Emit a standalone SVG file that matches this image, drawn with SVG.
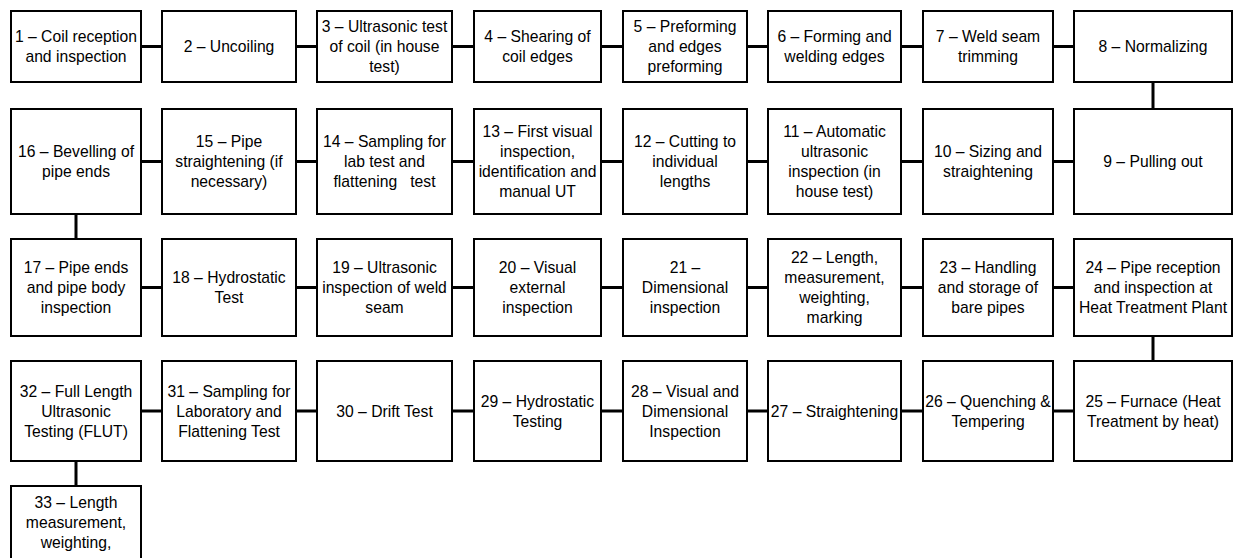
<svg xmlns="http://www.w3.org/2000/svg" width="1236" height="558" viewBox="0 0 1236 558">
<style>
.b{fill:#fff;stroke:#000;stroke-width:2}
.t{font-family:"Liberation Sans",Arial,sans-serif;font-size:15.7px;fill:#000;text-anchor:middle;white-space:pre}
.c{stroke:#000;stroke-width:3;fill:none}
</style>
<rect x="0" y="0" width="1236" height="558" fill="#fff"/>
<g id="connectors">
<path class="c" d="M142 46.5H161M297 46.5H316M453 46.5H473M602 46.5H622M748 46.5H767M902 46.5H922M1054 46.5H1073"/>
<path class="c" d="M142 161.5H161M297 161.5H316M453 161.5H473M602 161.5H622M748 161.5H767M902 161.5H922M1054 161.5H1073"/>
<path class="c" d="M142 287.5H161M297 287.5H316M453 287.5H473M602 287.5H622M748 287.5H767M902 287.5H922M1054 287.5H1073"/>
<path class="c" d="M142 411H161M297 411H316M453 411H473M602 411H622M748 411H767M902 411H922M1054 411H1073"/>
<path class="c" d="M1153 83V108M76 215V238M1153 337V360M76 462V485"/>
</g>
<g id="n1"><rect class="b" x="11" y="11" width="130" height="71"/><text class="t"><tspan x="76" y="42.1">1 – Coil reception</tspan><tspan x="76" y="62.1">and inspection</tspan></text></g>
<g id="n2"><rect class="b" x="162" y="11" width="134" height="71"/><text class="t"><tspan x="229" y="52.1">2 – Uncoiling</tspan></text></g>
<g id="n3"><rect class="b" x="317" y="11" width="135" height="71"/><text class="t"><tspan x="384.5" y="32.1">3 – Ultrasonic test</tspan><tspan x="384.5" y="52.1">of coil (in house</tspan><tspan x="384.5" y="72.1">test)</tspan></text></g>
<g id="n4"><rect class="b" x="474" y="11" width="127" height="71"/><text class="t"><tspan x="537.5" y="42.1">4 – Shearing of</tspan><tspan x="537.5" y="62.1">coil edges</tspan></text></g>
<g id="n5"><rect class="b" x="623" y="11" width="124" height="71"/><text class="t"><tspan x="685" y="32.1">5 – Preforming</tspan><tspan x="685" y="52.1">and edges</tspan><tspan x="685" y="72.1">preforming</tspan></text></g>
<g id="n6"><rect class="b" x="768" y="11" width="133" height="71"/><text class="t"><tspan x="834.5" y="42.1">6 – Forming and</tspan><tspan x="834.5" y="62.1">welding edges</tspan></text></g>
<g id="n7"><rect class="b" x="923" y="11" width="130" height="71"/><text class="t"><tspan x="988" y="42.1">7 – Weld seam</tspan><tspan x="988" y="62.1">trimming</tspan></text></g>
<g id="n8"><rect class="b" x="1074" y="11" width="158" height="71"/><text class="t"><tspan x="1153" y="52.1">8 – Normalizing</tspan></text></g>

<g id="n9"><rect class="b" x="1074" y="109" width="158" height="105"/><text class="t"><tspan x="1153" y="167.1">9 – Pulling out</tspan></text></g>
<g id="n10"><rect class="b" x="923" y="109" width="130" height="105"/><text class="t"><tspan x="988" y="157.1">10 – Sizing and</tspan><tspan x="988" y="177.1">straightening</tspan></text></g>
<g id="n11"><rect class="b" x="768" y="109" width="133" height="105"/><text class="t"><tspan x="834.5" y="137.1">11 – Automatic</tspan><tspan x="834.5" y="157.1">ultrasonic</tspan><tspan x="834.5" y="177.1">inspection (in</tspan><tspan x="834.5" y="197.1">house test)</tspan></text></g>
<g id="n12"><rect class="b" x="623" y="109" width="124" height="105"/><text class="t"><tspan x="685" y="147.1">12 – Cutting to</tspan><tspan x="685" y="167.1">individual</tspan><tspan x="685" y="187.1">lengths</tspan></text></g>
<g id="n13"><rect class="b" x="474" y="109" width="127" height="105"/><text class="t"><tspan x="537.5" y="137.1">13 – First visual</tspan><tspan x="537.5" y="157.1">inspection,</tspan><tspan x="537.5" y="177.1">identification and</tspan><tspan x="537.5" y="197.1">manual UT</tspan></text></g>
<g id="n14"><rect class="b" x="317" y="109" width="135" height="105"/><text class="t"><tspan x="384.5" y="147.1">14 – Sampling for</tspan><tspan x="384.5" y="167.1">lab test and</tspan><tspan x="384.5" y="187.1">flattening   test</tspan></text></g>
<g id="n15"><rect class="b" x="162" y="109" width="134" height="105"/><text class="t"><tspan x="229" y="147.1">15 – Pipe</tspan><tspan x="229" y="167.1">straightening (if</tspan><tspan x="229" y="187.1">necessary)</tspan></text></g>
<g id="n16"><rect class="b" x="11" y="109" width="130" height="105"/><text class="t"><tspan x="76" y="157.1">16 – Bevelling of</tspan><tspan x="76" y="177.1">pipe ends</tspan></text></g>

<g id="n17"><rect class="b" x="11" y="239" width="130" height="97"/><text class="t"><tspan x="76" y="273.1">17 – Pipe ends</tspan><tspan x="76" y="293.1">and pipe body</tspan><tspan x="76" y="313.1">inspection</tspan></text></g>
<g id="n18"><rect class="b" x="162" y="239" width="134" height="97"/><text class="t"><tspan x="229" y="283.1">18 – Hydrostatic</tspan><tspan x="229" y="303.1">Test</tspan></text></g>
<g id="n19"><rect class="b" x="317" y="239" width="135" height="97"/><text class="t"><tspan x="384.5" y="273.1">19 – Ultrasonic</tspan><tspan x="384.5" y="293.1">inspection of weld</tspan><tspan x="384.5" y="313.1">seam</tspan></text></g>
<g id="n20"><rect class="b" x="474" y="239" width="127" height="97"/><text class="t"><tspan x="537.5" y="273.1">20 – Visual</tspan><tspan x="537.5" y="293.1">external</tspan><tspan x="537.5" y="313.1">inspection</tspan></text></g>
<g id="n21"><rect class="b" x="623" y="239" width="124" height="97"/><text class="t"><tspan x="685" y="273.1">21 –</tspan><tspan x="685" y="293.1">Dimensional</tspan><tspan x="685" y="313.1">inspection</tspan></text></g>
<g id="n22"><rect class="b" x="768" y="239" width="133" height="97"/><text class="t"><tspan x="834.5" y="263.1">22 – Length,</tspan><tspan x="834.5" y="283.1">measurement,</tspan><tspan x="834.5" y="303.1">weighting,</tspan><tspan x="834.5" y="323.1">marking</tspan></text></g>
<g id="n23"><rect class="b" x="923" y="239" width="130" height="97"/><text class="t"><tspan x="988" y="273.1">23 – Handling</tspan><tspan x="988" y="293.1">and storage of</tspan><tspan x="988" y="313.1">bare pipes</tspan></text></g>
<g id="n24"><rect class="b" x="1074" y="239" width="158" height="97"/><text class="t"><tspan x="1153" y="273.1">24 – Pipe reception</tspan><tspan x="1153" y="293.1">and inspection at</tspan><tspan x="1153" y="313.1">Heat Treatment Plant</tspan></text></g>

<g id="n25"><rect class="b" x="1074" y="361" width="158" height="100"/><text class="t"><tspan x="1153" y="406.6">25 – Furnace (Heat</tspan><tspan x="1153" y="426.6">Treatment by heat)</tspan></text></g>
<g id="n26"><rect class="b" x="923" y="361" width="130" height="100"/><text class="t"><tspan x="988" y="406.6">26 – Quenching &amp;</tspan><tspan x="988" y="426.6">Tempering</tspan></text></g>
<g id="n27"><rect class="b" x="768" y="361" width="133" height="100"/><text class="t"><tspan x="834.5" y="416.6">27 – Straightening</tspan></text></g>
<g id="n28"><rect class="b" x="623" y="361" width="124" height="100"/><text class="t"><tspan x="685" y="396.6">28 – Visual and</tspan><tspan x="685" y="416.6">Dimensional</tspan><tspan x="685" y="436.6">Inspection</tspan></text></g>
<g id="n29"><rect class="b" x="474" y="361" width="127" height="100"/><text class="t"><tspan x="537.5" y="406.6">29 – Hydrostatic</tspan><tspan x="537.5" y="426.6">Testing</tspan></text></g>
<g id="n30"><rect class="b" x="317" y="361" width="135" height="100"/><text class="t"><tspan x="384.5" y="416.6">30 – Drift Test</tspan></text></g>
<g id="n31"><rect class="b" x="162" y="361" width="134" height="100"/><text class="t"><tspan x="229" y="396.6">31 – Sampling for</tspan><tspan x="229" y="416.6">Laboratory and</tspan><tspan x="229" y="436.6">Flattening Test</tspan></text></g>
<g id="n32"><rect class="b" x="11" y="361" width="130" height="100"/><text class="t"><tspan x="76" y="396.6">32 – Full Length</tspan><tspan x="76" y="416.6">Ultrasonic</tspan><tspan x="76" y="436.6">Testing (FLUT)</tspan></text></g>

<g id="n33"><rect class="b" x="11" y="486" width="130" height="100"/><text class="t"><tspan x="76" y="508">33 – Length</tspan><tspan x="76" y="528">measurement,</tspan><tspan x="76" y="548">weighting,</tspan></text></g>
</svg>
